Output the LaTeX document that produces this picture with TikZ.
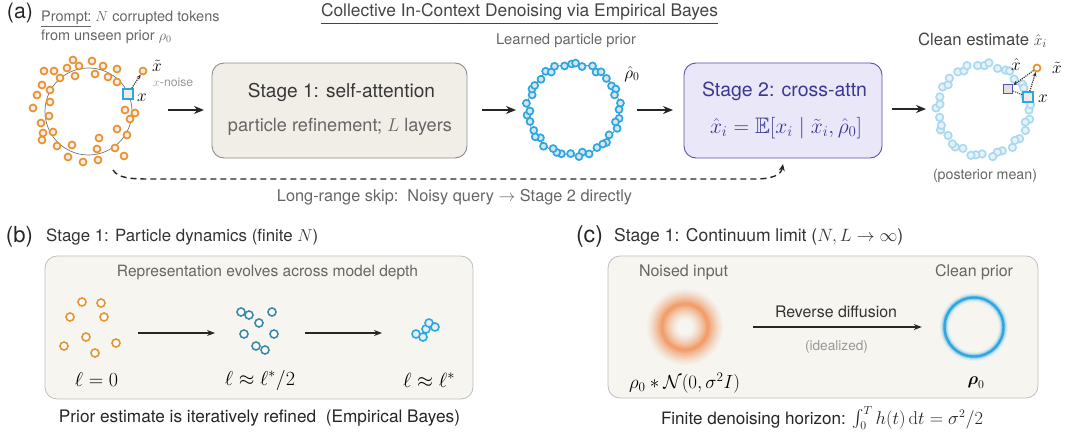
\documentclass[tikz,border=0pt]{standalone}
\usepackage{amsmath,amssymb}
\usepackage[no-math]{fontspec}
\setmainfont{TeX Gyre Heros}
\usetikzlibrary{arrows.meta,calc}
\definecolor{orangeA}{HTML}{E8922E}
\definecolor{orangeF}{HTML}{F9ECEA}
\definecolor{blueA}{HTML}{2EA6DF}
\definecolor{blueF}{HTML}{D6E6EE}
\definecolor{lblueA}{HTML}{AADAF0}
\definecolor{lblueF}{HTML}{E6F2F8}
\definecolor{tealA}{HTML}{3A88AA}
\definecolor{stoneF}{HTML}{F1EEE8}
\definecolor{stoneD}{HTML}{8C8C8C}
\definecolor{lavF}{HTML}{E9E7F8}
\definecolor{lavD}{HTML}{5753AA}
\definecolor{lavT}{HTML}{3B3894}
\definecolor{panelF}{HTML}{F6F5F0}
\definecolor{panelD}{HTML}{BEBEBE}
\definecolor{glowO}{HTML}{F28C4E}
\definecolor{txtA}{HTML}{444444}
\definecolor{txtB}{HTML}{666666}
\definecolor{txtC}{HTML}{999999}
\newcommand{\fsz}[1]{\fontsize{#1pt}{\fpeval{1.2*#1}pt}\selectfont}
\newcommand{\fitw}[2]{\resizebox{#1pt}{!}{#2}}
\begin{document}
\begin{tikzpicture}[x=1pt,y=-1pt,
  odot/.style={circle, draw=orangeA, fill=orangeF, line width=1.7pt, minimum size=7pt, inner sep=0pt},
  bdot/.style={circle, draw=blueA, fill=blueF, line width=1.7pt, minimum size=7pt, inner sep=0pt},
  lbdot/.style={circle, draw=lblueA, fill=lblueF, line width=1.7pt, minimum size=7.5pt, inner sep=0pt},
  tdot/.style={circle, draw=tealA, fill=white, line width=1.6pt, minimum size=8pt, inner sep=0pt},
  pbdot/.style={circle, draw=blueA, fill=blueF!60, line width=1.6pt, minimum size=8pt, inner sep=0pt},
  podot/.style={circle, draw=orangeA, fill=white, line width=1.6pt, minimum size=8pt, inner sep=0pt},
  arr/.style={-{Stealth[length=10pt,width=8pt]}, line width=1.6pt, draw=black!85},
  arrb/.style={-{Stealth[length=8pt,width=6pt]}, line width=1.1pt, draw=black!85},
  darr/.style={densely dotted, line width=1.2pt, draw=black!80, -{Stealth[length=4.5pt,width=4pt]}},
  stagebox/.style={rounded corners=12pt, line width=0.9pt, minimum height=95pt, inner sep=0pt},
  panelbox/.style={rounded corners=12pt, draw=panelD, fill=panelF, line width=0.8pt, inner sep=0pt},
  ring/.style={circle, inner sep=0pt},
  txt/.style={inner sep=1pt},
]
\useasboundingbox (0,0) rectangle (1065,433);

% ---------- (a) header ----------
\node[txt, font=\fsz{19}, text=black!85] (la) at (20,13) {\fitw{26}{(a)}};
\node[txt, font=\fsz{17}, text=txtA] (title) at (519.5,14) {\fitw{397}{\underline{Collective In-Context Denoising via Empirical Bayes}}};
\node[anchor=west, align=left, font=\fontsize{14.5pt}{19pt}\selectfont, text=txtB, inner sep=0pt] (prompt) at (41,27)
  {\underline{Prompt:} $N$ corrupted tokens\\from unseen prior $\rho_0$};

% ---------- left noisy ring ----------
\node[ring, draw=black!55, line width=0.7pt, minimum size=87pt] (ring1) at (88.5,111.5) {};
\foreach \px/\py [count=\k] in {73/60, 92/61, 44/71, 54/71, 67/68, 79/66, 103/66, 117/69, 60/78, 75/76, 95/74, 108/77, 117/82, 42/85, 50/90, 37/95, 50/102, 125/110, 130/119, 135/113, 33/108, 49/116, 41/123, 43/133, 42/140, 53/132, 117/129, 127/135, 99/138, 57/146, 72/145, 97/149, 115/148, 124/156, 68/157, 83/162, 98/160}
  \node[odot] (o\k) at (\px,\py) {};
\node[odot] (xtL) at (143,71) {};
\node[draw=blueA, fill=black!8, line width=1.6pt, minimum size=10pt, inner sep=0pt] (sqL) at (128,94) {};
\draw[darr] (sqL) -- (xtL);
\node[txt, font=\fsz{16}] (xtLl) at (157,66) {$\tilde{x}$};
\node[txt, font=\fsz{16}] (xL) at (142,98) {$x$};
\node[font=\fsz{12}, text=txtC, anchor=west, inner sep=0pt] (xnoise) at (153,82) {\fitw{40}{$x$-noise}};

% ---------- Stage 1 box ----------
\node[stagebox, draw=stoneD, fill=stoneF, minimum width=255pt] (s1) at (339.5,110.5) {};
\node[txt, font=\fsz{19}, text=black!78] (s1t) at (341.5,92) {\fitw{187}{Stage 1: self-attention}};
\node[txt, font=\fsz{17}, text=txtB] (s1s) at (340,127) {\fitw{224}{particle refinement; $L$ layers}};

% ---------- learned prior ring ----------
\node[ring, draw=black!70, line width=0.5pt, minimum size=92pt] (ring2) at (573.5,109.5) {};
\foreach \i in {0,...,41}{
  \pgfmathsetmacro\ang{\i*360/42 + 2.5*sin(\i*97)}
  \pgfmathsetmacro\rad{45.5 + 2*sin(\i*151)}
  \node[bdot] (p\i) at ($(ring2.center)+(\ang:\rad)$) {};
}
\node[txt, font=\fsz{14.5}, text=txtB] (lpp) at (566,41) {\fitw{140}{Learned particle prior}};
\node[txt, font=\fsz{17}] (rh) at (632,74) {$\hat{\rho}_0$};

% ---------- Stage 2 box ----------
\node[stagebox, draw=lavD, fill=lavF, minimum width=198pt] (s2) at (783,110.5) {};
\node[txt, font=\fsz{19}, text=lavT] (s2t) at (784.5,91) {\fitw{165}{Stage 2: cross-attn}};
\node[txt, font=\fsz{18}, text=lavT] (s2s) at (786,128) {\fitw{152}{$\hat{x}_i = \mathbb{E}[x_i \mid \tilde{x}_i, \hat{\rho}_0]$}};

% ---------- clean estimate ring ----------
\node[ring, minimum size=92pt] (ring3) at (983.5,110) {};
\foreach \i in {0,...,39}{
  \pgfmathsetmacro\ang{\i*360/40 + 2.5*sin(\i*113)}
  \pgfmathsetmacro\rad{45.5 + 2*sin(\i*131)}
  \node[lbdot] (q\i) at ($(ring3.center)+(\ang:\rad)$) {};
}
\node[draw=lavD, fill=black!12, line width=1.6pt, minimum size=9pt, inner sep=0pt] (sqD) at (1008,89) {};
\node[draw=blueA, fill=black!8, line width=1.6pt, minimum size=10pt, inner sep=0pt] (sqR) at (1028,97) {};
\node[odot, fill=white] (xtR) at (1037,68) {};
\draw[densely dotted, line width=1.1pt, draw=black!70] (sqD) -- (sqR);
\draw[darr] (xtR) -- (sqD);
\draw[darr] (sqR) -- (xtR);
\node[txt, font=\fsz{16}] (xhR) at (1016,65) {$\hat{x}$};
\node[txt, font=\fsz{16}] (xtRl) at (1057,68) {$\tilde{x}$};
\node[txt, font=\fsz{16}] (xR) at (1043,99) {$x$};
\node[txt, font=\fsz{15.5}, text=txtA] (ce) at (982.5,40) {\fitw{129}{Clean estimate $\hat{x}_i$}};
\node[txt, font=\fsz{14}, text=txtB] (pm) at (985,176) {\fitw{104}{(posterior mean)}};

% ---------- main arrows ----------
\coordinate (a1s) at (168,110); \coordinate (a1e) at (204,110);
\coordinate (a2s) at (482,110); \coordinate (a2e) at (516,110);
\coordinate (a3s) at (637,110); \coordinate (a3e) at (673,110);
\coordinate (a4s) at (892,109); \coordinate (a4e) at (926,109);
\draw[arr] (a1s) -- (a1e);
\draw[arr] (a2s) -- (a2e);
\draw[arr] (a3s) -- (a3e);
\draw[arr] (a4s) -- (a4e);

% ---------- long-range skip ----------
\coordinate (skS) at (113,170);
\coordinate (skE) at (783,164);
\draw[line width=1.4pt, dash pattern=on 6pt off 4pt, draw=black!85, -{Stealth[length=7pt,width=6pt]}]
  (skS) .. controls (118,178) and (130,179) .. (150,179) -- (755,179) .. controls (772,179) and (781,175) .. (skE);
\node[txt, font=\fsz{14}, text=txtB] (skl) at (454.5,197) {\fitw{355}{Long-range skip:\ \ Noisy query $\rightarrow$ Stage 2 directly}};

% ---------- (b) panel ----------
\node[txt, font=\fsz{19}, text=black!85] (lb) at (19.5,237) {\fitw{27}{(b)}};
\node[font=\fsz{17}, text=black!80, anchor=west, inner sep=0pt] (bt) at (46,237) {\fitw{272}{Stage 1: Particle dynamics (finite $N$)}};
\node[panelbox, minimum width=428pt, minimum height=143pt] (pb) at (259,327.5) {};
\node[txt, font=\fsz{14.5}, text=txtB] (rep) at (267.5,273) {\fitw{301}{Representation evolves across model depth}};
\foreach \px/\py [count=\k] in {82/302, 101/303, 70/317, 104/317, 86/337, 64/346, 116/343, 95/353}
  \node[podot] (b\k) at (\px,\py) {};
\foreach \px/\py [count=\k] in {241/312, 249/315, 272/312, 259/323, 244/334, 274/334, 256/346, 265/350}
  \node[tdot] (t\k) at (\px,\py) {};
\foreach \px/\py [count=\k] in {416/334, 423/337, 426/329, 429/323, 435/327}
  \node[pbdot] (c\k) at (\px,\py) {};
\coordinate (b1s) at (138,333); \coordinate (b1e) at (215,333);
\coordinate (b2s) at (305,333); \coordinate (b2e) at (382,333);
\draw[arrb] (b1s) -- (b1e);
\draw[arrb] (b2s) -- (b2e);
\node[txt, font=\fsz{18}] (l0) at (96.5,380) {\fitw{43}{$\ell = 0$}};
\node[txt, font=\fsz{18}] (l1) at (260,380) {\fitw{70}{$\ell \approx \ell^*/2$}};
\node[txt, font=\fsz{18}] (l2) at (429,380) {\fitw{52}{$\ell \approx \ell^*$}};
\node[txt, font=\fsz{16}, text=black!85] (bcap) at (259.5,418) {\fitw{401}{Prior estimate is iteratively refined\ \ (Empirical Bayes)}};

% ---------- (c) panel ----------
\node[txt, font=\fsz{19}, text=black!85] (lc) at (589.5,237) {\fitw{27}{(c)}};
\node[font=\fsz{17}, text=black!80, anchor=west, inner sep=0pt] (ct) at (614,237) {\fitw{289}{Stage 1: Continuum limit ($N, L \rightarrow \infty$)}};
\node[panelbox, minimum width=430pt, minimum height=142pt] (pc) at (823,327) {};
\node[txt, font=\fsz{16}, text=txtB] (ni) at (683.5,272) {\fitw{89}{Noised input}};
\node[txt, font=\fsz{16}, text=txtB] (cp) at (974,272) {\fitw{78}{Clean prior}};
% blurred orange ring
\foreach \w/\o in {30/0.06, 26/0.08, 22/0.1, 18/0.13, 14/0.17, 10/0.22, 6/0.3, 3/0.35}
  \draw[line width=\w pt, draw=glowO, opacity=\o] (685,327) circle[radius=23];
\node[ring, minimum size=72pt] (noised) at (685,327) {};
% sharp blue ring
\foreach \w/\o in {9/0.08, 6.5/0.15, 4.5/0.3}
  \draw[line width=\w pt, draw=blueA, opacity=\o] (974,327) circle[radius=29.5];
\draw[line width=2.4pt, draw=blueA] (974,327) circle[radius=29.5];
\node[ring, minimum size=64pt] (clean) at (974,327) {};
\draw[arrb, shorten <=32pt, shorten >=20pt] (noised.east) -- (clean.west);
\node[txt, font=\fsz{16}, text=black!80] (rd) at (836,312) {\fitw{122}{Reverse diffusion}};
\node[txt, font=\fsz{13.5}, text=txtC] (idl) at (836.5,347) {\fitw{63}{(idealized)}};
\node[txt, font=\fsz{17}] (nm) at (684.5,383) {\fitw{111}{$\rho_0 * \mathcal{N}(0, \sigma^2 I)$}};
\node[txt, font=\fsz{17}] (r0) at (976,383) {$\boldsymbol{\rho}_0$};
\node[txt, font=\fsz{16}, text=black!85] (ccap) at (822,418) {\fitw{322}{Finite denoising horizon: $\int_0^T h(t)\,\mathrm{d}t = \sigma^2/2$}};
\end{tikzpicture}
\end{document}
